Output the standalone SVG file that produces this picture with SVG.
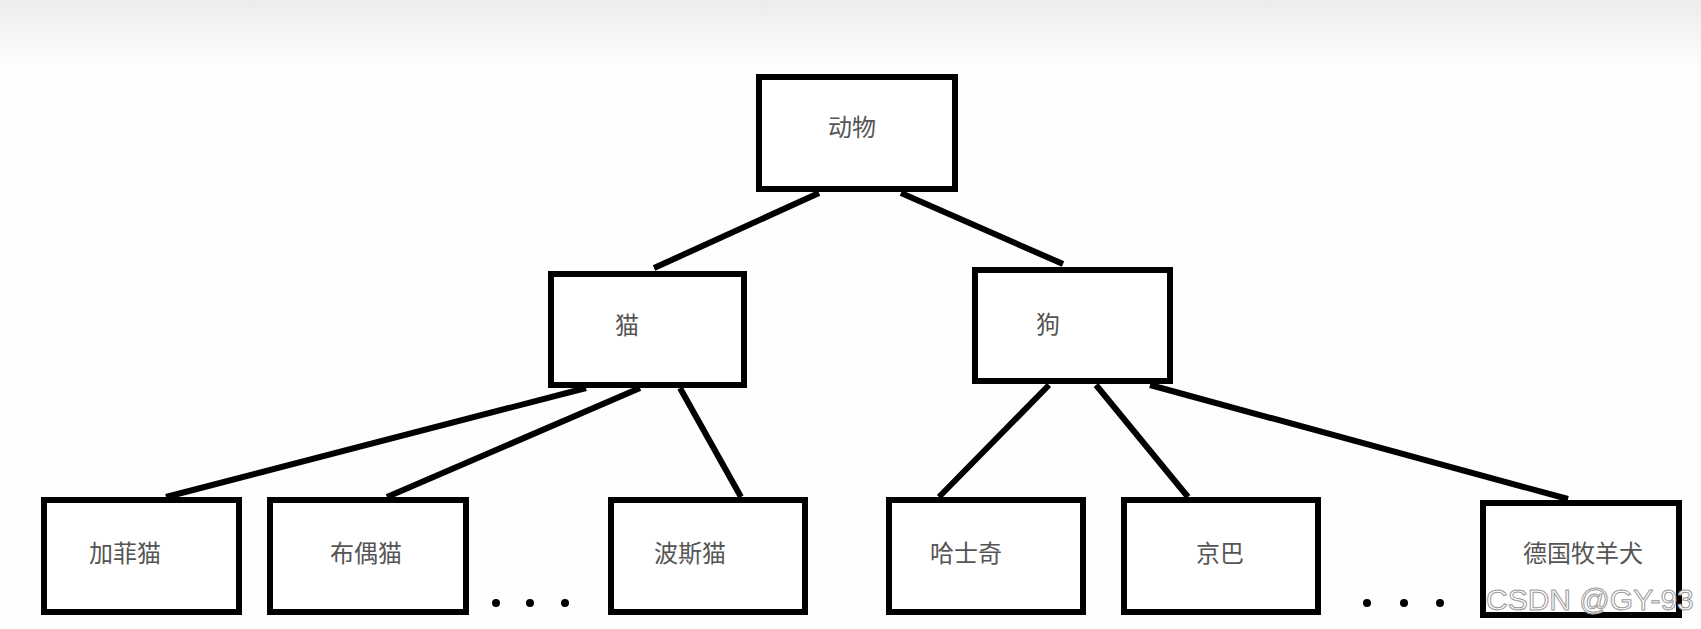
<svg xmlns="http://www.w3.org/2000/svg" width="1701" height="629" viewBox="0 0 1701 629">
<defs>
<linearGradient id="top" x1="0" y1="0" x2="0" y2="1"><stop offset="0" stop-color="#ececec"/><stop offset="1" stop-color="#fefefe"/></linearGradient>
<style>
.box{fill:#fff;stroke:#000;stroke-width:6}
.t{font-family:"Noto Sans CJK SC","Noto Sans",sans-serif;font-size:24px;fill:#555;text-anchor:middle;dominant-baseline:central}
.c line{stroke:#000;stroke-width:6}
</style>
</defs>
<rect width="1701" height="629" fill="#fefefe"/>
<rect width="1701" height="70" fill="url(#top)"/>
<g class="c" id="connectors">
<line x1="819" y1="193" x2="654" y2="268"/>
<line x1="901" y1="193" x2="1063" y2="264"/>
<line x1="586" y1="388" x2="166" y2="497"/>
<line x1="640" y1="388" x2="387" y2="497"/>
<line x1="680" y1="388" x2="741" y2="497"/>
<line x1="1049" y1="385" x2="939" y2="497"/>
<line x1="1096" y1="385" x2="1188" y2="497"/>
<line x1="1150" y1="385" x2="1568" y2="499"/>
</g>
<g id="n-animal"><rect class="box" x="759" y="77" width="196" height="112"/><text class="t" x="852" y="125">动物</text></g>
<g id="n-cat"><rect class="box" x="551" y="274" width="193" height="111"/><text class="t" x="627" y="323">猫</text></g>
<g id="n-dog"><rect class="box" x="975" y="270" width="195" height="111"/><text class="t" x="1048" y="322">狗</text></g>
<g id="n-garfield"><rect class="box" x="44" y="500" width="195" height="112"/><text class="t" x="125" y="551">加菲猫</text></g>
<g id="n-ragdoll"><rect class="box" x="270" y="500" width="196" height="112"/><text class="t" x="366" y="551">布偶猫</text></g>
<g id="n-persian"><rect class="box" x="611" y="500" width="194" height="112"/><text class="t" x="690" y="551">波斯猫</text></g>
<g id="n-husky"><rect class="box" x="889" y="500" width="194" height="112"/><text class="t" x="966" y="551">哈士奇</text></g>
<g id="n-pekingese"><rect class="box" x="1124" y="500" width="194" height="112"/><text class="t" x="1220" y="551">京巴</text></g>
<g id="n-shepherd"><rect class="box" x="1483" y="503" width="196" height="112"/><text class="t" x="1583" y="551">德国牧羊犬</text></g>
<g fill="#000">
<circle cx="496" cy="603" r="4"/><circle cx="530" cy="603" r="4"/><circle cx="565" cy="603" r="4"/>
<circle cx="1367" cy="603" r="4"/><circle cx="1404" cy="603" r="4"/><circle cx="1440" cy="603" r="4"/>
</g>
<text x="1486" y="610" font-family="Liberation Sans,sans-serif" font-size="30" fill="#fff" stroke="#999" stroke-width="1">CSDN @GY-93</text>
</svg>
